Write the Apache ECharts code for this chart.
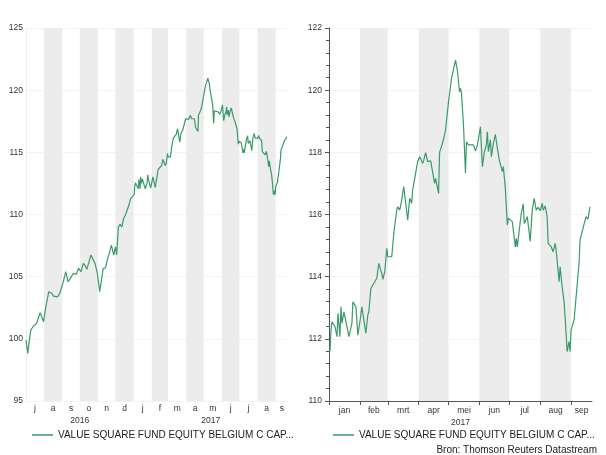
<!DOCTYPE html>
<html>
<head>
<meta charset="utf-8">
<script src="https://cdn.jsdelivr.net/npm/echarts@6/dist/echarts.min.js"></script>
<style>html,body{margin:0;padding:0;background:#fff;}#c{width:606px;height:455px;}</style>
</head>
<body>
<div id="c"></div>
<script>
// ---- data ----
const seriesName = 'VALUE SQUARE FUND EQUITY BELGIUM C CAP...';
const sourceText = 'Bron: Thomson Reuters Datastream';
const monthNames = ['jan','feb','mrt','apr','mei','jun','jul','aug','sep','okt','nov','dec'];
const leftYTicks = {min: 95, max: 125, interval: 5};
const rightYTicks = {min: 110, max: 122, interval: 2};

const dates2016 = ['2016-07-01','2016-07-04','2016-07-09','2016-07-13','2016-07-19','2016-07-21','2016-07-25','2016-07-28','2016-07-31',
  '2016-08-04','2016-08-09','2016-08-14','2016-08-17','2016-08-20','2016-08-24','2016-08-28',
  '2016-09-02','2016-09-07','2016-09-11','2016-09-14','2016-09-17','2016-09-20','2016-09-23','2016-09-25','2016-09-29',
  '2016-10-03','2016-10-07','2016-10-10','2016-10-13','2016-10-16','2016-10-20','2016-10-23','2016-10-27','2016-10-31',
  '2016-11-04','2016-11-07','2016-11-10','2016-11-14','2016-11-17','2016-11-21','2016-11-24','2016-11-28',
  '2016-12-01','2016-12-03','2016-12-06','2016-12-09','2016-12-12','2016-12-15','2016-12-18','2016-12-24','2016-12-27','2016-12-30'];
const values2016 = [99.9,98.83,100.7,100.97,101.24,101.5,102.1,101.77,101.37,
  102.58,103.79,103.66,103.44,103.6,103.38,103.7,
  104.46,105.4,104.59,104.8,104.73,105.27,105.4,105.2,105.67,
  105.4,106.07,105.9,105.59,106.07,106.74,106.74,106.07,105.27,
  103.79,104.73,105.67,105.7,106.34,107.0,107.54,106.74,
  107.4,106.74,109.0,109.2,109.0,109.7,109.96,110.76,111.3,111.4];

const dates2017 = ['2017-01-02','2017-01-03','2017-01-04','2017-01-07','2017-01-09','2017-01-10','2017-01-12','2017-01-13','2017-01-14','2017-01-16','2017-01-18','2017-01-19','2017-01-21','2017-01-24','2017-01-25','2017-01-26','2017-01-28','2017-01-30',
  '2017-02-01','2017-02-03','2017-02-05','2017-02-07','2017-02-09','2017-02-10','2017-02-12','2017-02-14','2017-02-18','2017-02-20','2017-02-22','2017-02-23','2017-02-24','2017-02-26','2017-02-28',
  '2017-03-01','2017-03-03','2017-03-05','2017-03-07','2017-03-10','2017-03-11','2017-03-13','2017-03-15','2017-03-17','2017-03-19','2017-03-21','2017-03-23','2017-03-25','2017-03-26','2017-03-28','2017-03-31',
  '2017-04-02','2017-04-05','2017-04-06','2017-04-08','2017-04-10','2017-04-13','2017-04-15','2017-04-17','2017-04-18','2017-04-21','2017-04-22','2017-04-25','2017-04-27','2017-04-28',
  '2017-05-01','2017-05-02','2017-05-04','2017-05-06','2017-05-08','2017-05-09','2017-05-10','2017-05-12','2017-05-13','2017-05-14','2017-05-16','2017-05-18','2017-05-19','2017-05-21','2017-05-26','2017-05-28','2017-05-30',
  '2017-06-02','2017-06-03','2017-06-04','2017-06-06','2017-06-08','2017-06-09','2017-06-10','2017-06-12','2017-06-13','2017-06-15','2017-06-17','2017-06-19','2017-06-21','2017-06-24','2017-06-25','2017-06-27','2017-06-29','2017-06-30',
  '2017-07-04','2017-07-07','2017-07-08','2017-07-09','2017-07-13','2017-07-15','2017-07-16','2017-07-19','2017-07-20','2017-07-22','2017-07-24','2017-07-26','2017-07-28','2017-07-30',
  '2017-08-01','2017-08-03','2017-08-04','2017-08-06','2017-08-08','2017-08-09','2017-08-12','2017-08-14','2017-08-16','2017-08-17','2017-08-20','2017-08-21','2017-08-23','2017-08-25','2017-08-26','2017-08-27','2017-08-28','2017-08-30','2017-08-31',
  '2017-09-01','2017-09-03','2017-09-04','2017-09-06','2017-09-09','2017-09-10','2017-09-13','2017-09-14','2017-09-16','2017-09-18','2017-09-20'];
const values2017 = [111.6,112.28,112.55,112.39,112.07,112.82,112.07,113.03,112.5,112.87,112.55,112.6,112.07,112.5,113.19,113.25,113.03,112.12,
  112.55,113.03,112.6,112.18,112.77,112.87,113.62,113.73,113.95,114.43,114.43,114.1,113.91,114.16,114.91,
  114.64,114.7,114.64,115.39,116.14,116.25,116.14,116.47,116.9,116.84,115.82,116.52,116.36,116.79,116.84,117.7,
  117.86,117.65,117.73,117.99,117.7,117.73,117.7,117.0,117.16,116.68,118.0,118.3,118.56,118.72,
  119.63,119.68,120.38,120.43,120.97,121.02,120.6,119.95,120.06,119.9,118.88,117.33,118.34,118.24,118.24,118.04,118.24,
  118.82,118.8,117.54,118.02,118.24,118.66,118.02,118.4,117.86,118.29,118.58,118.13,117.75,117.38,117.54,116.84,115.66,115.88,
  115.77,114.96,115.23,114.96,116.04,116.34,115.71,115.93,115.9,115.13,116.14,116.52,116.14,116.23,
  116.12,116.36,116.14,116.27,115.93,115.07,114.96,114.8,115.07,114.86,113.84,114.32,113.68,113.19,112.71,112.18,111.59,111.91,111.59,
  112.28,112.3,112.6,112.55,114.43,115.18,115.56,115.6,115.93,115.85,116.25];

const shadedLeft = ['2016-08','2016-10','2016-12','2017-02','2017-04','2017-06','2017-08'];
const shadedRight = ['2017-02','2017-04','2017-06','2017-08'];
const leftRange = ['2016-07-01','2017-09-22'];
const rightRange = ['2017-01-01','2017-09-22'];

// ---- helpers ----
function ts(s){ const p = s.split('-').map(Number); return new Date(p[0], (p[1]||1)-1, p[2]||1).getTime(); }
function nextMonth(s){ const p = s.split('-').map(Number); return new Date(p[0], p[1], 1).getTime(); }
function monthStarts(a, b){ const out=[]; const d=new Date(a); let y=d.getFullYear(), m=d.getMonth();
  while(true){ const s=new Date(y,m,1).getTime(); if(s>b) break; if(s>=a) out.push(s); m++; if(m>11){m=0;y++;} } return out; }
function monthMids(a, b){ const out=[]; const d=new Date(a); let y=d.getFullYear(), m=d.getMonth();
  while(true){ let s=new Date(y,m,1).getTime(); if(s>=b) break; if(s<a) s=a; let e=new Date(y,m+1,1).getTime(); if(e>b) e=b; out.push((s+e)/2); m++; if(m>11){m=0;y++;} } return out; }
function yearMids(a, b){ const out=[]; let y=new Date(a).getFullYear();
  while(true){ let s=new Date(y,0,1).getTime(); if(s>=b) break; if(s<a) s=a; let e=new Date(y+1,0,1).getTime(); if(e>b) e=b; out.push((s+e)/2); y++; } return out; }

const lMin = ts(leftRange[0]), lMax = ts(leftRange[1]);
const rMin = ts(rightRange[0]), rMax = ts(rightRange[1]);
const allValues = values2016.concat(values2017);
const leftData = dates2016.concat(dates2017).map((d,i)=>[ts(d), allValues[i]]);
const rightData = dates2017.map((d,i)=>[ts(d), values2017[i]]);
const bands = arr => arr.map(s => [{xAxis: ts(s)}, {xAxis: nextMonth(s)}]);

const FONT = 'Liberation Sans, Arial, sans-serif';
const LINE = '#3a9a6b';
const BAND = '#ececec';
const AXIS = '#555';
const TXT = '#333';

const chart = echarts.init(document.getElementById('c'), null, {renderer: 'canvas'});
chart.setOption({
  animation: false,
  textStyle: {fontFamily: FONT},
  grid: [
    {left: 26, right: 318, top: 28, bottom: 54},
    {left: 329, right: 14, top: 28, bottom: 54}
  ],
  xAxis: [
    {type: 'value', gridIndex: 0, position: 'bottom', min: lMin, max: lMax, scale: true,
      axisLine: {show: false}, axisTick: {show: false}, splitLine: {show: false},
      axisLabel: {customValues: monthMids(lMin, lMax), formatter: v => monthNames[new Date(v).getMonth()].charAt(0),
        fontSize: 8.5, color: TXT, margin: 3, fontFamily: FONT}},
    {type: 'value', gridIndex: 0, position: 'bottom', min: lMin, max: lMax, scale: true, offset: 12,
      axisLine: {show: false}, axisTick: {show: false}, splitLine: {show: false},
      axisLabel: {customValues: yearMids(lMin, lMax), formatter: v => String(new Date(v).getFullYear()),
        fontSize: 8.5, color: TXT, margin: 3, fontFamily: FONT}},
    {type: 'value', gridIndex: 1, position: 'bottom', min: rMin, max: rMax, scale: true,
      axisLine: {show: true, onZero: false, lineStyle: {color: AXIS, width: 1}},
      axisTick: {show: true, length: 4, customValues: monthStarts(rMin, rMax), lineStyle: {color: AXIS}},
      splitLine: {show: false},
      axisLabel: {customValues: monthMids(rMin, rMax), formatter: v => monthNames[new Date(v).getMonth()],
        fontSize: 8.5, color: TXT, margin: 5, fontFamily: FONT}},
    {type: 'value', gridIndex: 1, position: 'bottom', min: rMin, max: rMax, scale: true, offset: 12,
      axisLine: {show: false}, axisTick: {show: false}, splitLine: {show: false},
      axisLabel: {customValues: yearMids(rMin, rMax), formatter: v => String(new Date(v).getFullYear()),
        fontSize: 8.5, color: TXT, margin: 5, fontFamily: FONT}}
  ],
  yAxis: [
    {type: 'value', gridIndex: 0, min: leftYTicks.min, max: leftYTicks.max, interval: leftYTicks.interval,
      axisLine: {show: true, onZero: false, lineStyle: {color: '#eeeeee'}}, axisTick: {show: false},
      splitLine: {show: true, lineStyle: {color: '#f3f3f3'}},
      axisLabel: {fontSize: 8.5, color: TXT, margin: 3, fontFamily: FONT}},
    {type: 'value', gridIndex: 1, min: rightYTicks.min, max: rightYTicks.max, interval: rightYTicks.interval,
      axisLine: {show: true, onZero: false, lineStyle: {color: AXIS}}, axisTick: {show: true, length: 4, lineStyle: {color: AXIS}},
      minorTick: {show: true, splitNumber: 5, length: 3, lineStyle: {color: AXIS}},
      splitLine: {show: true, lineStyle: {color: '#f3f3f3'}},
      axisLabel: {fontSize: 8.5, color: TXT, margin: 7, fontFamily: FONT}}
  ],
  legend: [
    {left: 27, top: 423, icon: 'rect', itemWidth: 21, itemHeight: 1.5, itemGap: 4, data: [seriesName],
      textStyle: {fontSize: 10, color: '#222', fontFamily: FONT, lineHeight: 14}},
    {left: 328, top: 423, icon: 'rect', itemWidth: 21, itemHeight: 1.5, itemGap: 4, data: [seriesName],
      textStyle: {fontSize: 10, color: '#222', fontFamily: FONT, lineHeight: 14}}
  ],
  graphic: [
    {type: 'text', right: 9, top: 445, style: {text: sourceText, fontSize: 10, fill: '#222', fontFamily: FONT}}
  ],
  series: [
    {name: seriesName, type: 'line', xAxisIndex: 0, yAxisIndex: 0, data: leftData, symbol: 'none',
      lineStyle: {color: LINE, width: 1.2}, itemStyle: {color: LINE},
      markArea: {silent: true, itemStyle: {color: BAND}, data: bands(shadedLeft)}},
    {name: seriesName, type: 'line', xAxisIndex: 2, yAxisIndex: 1, data: rightData, symbol: 'none',
      lineStyle: {color: LINE, width: 1.2}, itemStyle: {color: LINE},
      markArea: {silent: true, itemStyle: {color: BAND}, data: bands(shadedRight)}}
  ]
});
</script>
</body>
</html>
